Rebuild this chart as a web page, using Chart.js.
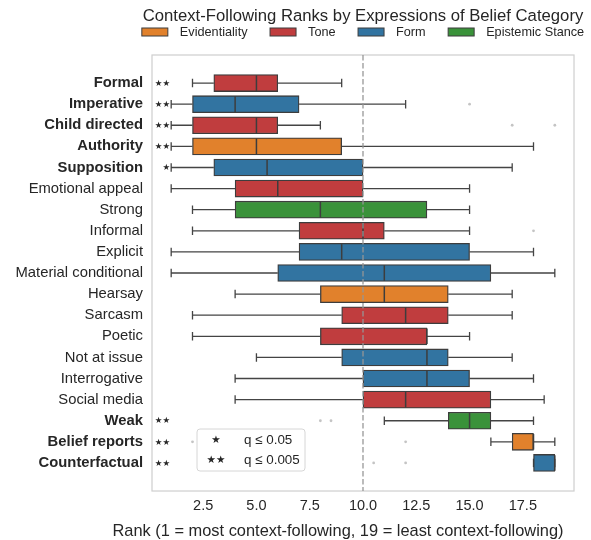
<!DOCTYPE html>
<html><head><meta charset="utf-8">
<script src="https://cdn.jsdelivr.net/npm/chart.js@4.4.1/dist/chart.umd.min.js"></script>
<style>html,body{margin:0;padding:0;background:#fff}canvas{display:block}</style>
</head><body>
<canvas id="c" width="591" height="540"></canvas>
<script>
// ---------- data ----------
const categories = ['Formal','Imperative','Child directed','Authority','Supposition','Emotional appeal','Strong','Informal','Explicit','Material conditional','Hearsay','Sarcasm','Poetic','Not at issue','Interrogative','Social media','Weak','Belief reports','Counterfactual'];
const groups = ['Tone','Form','Tone','Evidentiality','Form','Tone','Epistemic Stance','Tone','Form','Form','Evidentiality','Tone','Tone','Form','Form','Tone','Epistemic Stance','Evidentiality','Form'];
const whiskerLow  = [2, 1, 1, 1, 1,   1, 2, 2, 1, 1, 4, 2, 2, 5, 4, 4, 11, 16, 18];
const q1          = [3, 2, 2, 2, 3,   4, 4, 7, 7, 6, 8, 9, 8, 9, 10, 10, 14, 17, 18];
const medians     = [5, 4, 5, 5, 5.5, 6, 8, 10, 9, 11, 11, 12, 13, 13, 13, 12, 15, 18, 19];
const q3          = [6, 7, 6, 9, 10,  10, 13, 11, 15, 16, 14, 14, 13, 14, 15, 16, 16, 18, 19];
const whiskerHigh = [9, 12, 8, 18, 17, 15, 15, 15, 18, 19, 17, 17, 15, 17, 18, 18.5, 18, 19, 19];
const outliers    = [[], [15], [17, 19], [], [], [], [], [18], [], [], [], [], [], [], [], [], [8, 8.5], [2, 12], [10.5, 12]];
const significance = ['**','**','**','**','*','','','','','','','','','','','','**','**','**'];
const groupNames = ['Evidentiality','Tone','Form','Epistemic Stance'];
const xTicks = [2.5, 5, 7.5, 10, 12.5, 15, 17.5];
const referenceRank = 10;
const sigLegend = [['★', 'q ≤ 0.05'], ['★★', 'q ≤ 0.005']];
const titleText = 'Context-Following Ranks by Expressions of Belief Category';
const xTitleText = 'Rank (1 = most context-following, 19 = least context-following)';

// ---------- style ----------
const groupColors = {'Evidentiality':'#e1812c','Tone':'#c03d3e','Form':'#3274a1','Epistemic Stance':'#3a923a'};
const FONT = "'Liberation Sans', Arial, Helvetica, sans-serif";
const STAR_FONT = "'DejaVu Sans', sans-serif";
const TEXT = '#262626';
const LINE = '#444444';
const BOX_H = 17;

const datasets = groupNames.map(g => ({
  label: g,
  data: categories.map((c, i) => i).filter(i => groups[i] === g).map(i => ({x: [q1[i], q3[i]], y: i})),
  backgroundColor: groupColors[g],
  borderColor: '#3d3d3d',
  borderWidth: 1.3,
  borderSkipped: false,
  barThickness: BOX_H,
  grouped: false
}));

const extras = {
  id: 'extras',
  beforeDatasetsDraw(chart) {
    const {ctx, chartArea: a, scales: {x, y}} = chart;
    ctx.save();
    ctx.strokeStyle = '#d0d0d0'; ctx.lineWidth = 1.25;
    ctx.strokeRect(a.left, a.top, a.right - a.left, a.bottom - a.top);
    ctx.strokeStyle = LINE; ctx.lineWidth = 1.3;
    categories.forEach((c, i) => {
      const py = y.getPixelForValue(i);
      const cap = BOX_H / 4;
      [[whiskerLow[i], q1[i]], [whiskerHigh[i], q3[i]]].forEach(([w, q]) => {
        const pw = x.getPixelForValue(w), pq = x.getPixelForValue(q);
        ctx.beginPath();
        ctx.moveTo(pw, py); ctx.lineTo(pq, py);
        ctx.moveTo(pw, py - cap); ctx.lineTo(pw, py + cap);
        ctx.stroke();
      });
    });
    ctx.restore();
  },
  afterDatasetsDraw(chart) {
    const {ctx, chartArea: a, scales: {x, y}} = chart;
    ctx.save();
    // medians
    ctx.strokeStyle = '#3d3d3d'; ctx.lineWidth = 1.5;
    categories.forEach((c, i) => {
      const py = y.getPixelForValue(i), pm = x.getPixelForValue(medians[i]);
      ctx.beginPath(); ctx.moveTo(pm, py - BOX_H / 2 + 0.7); ctx.lineTo(pm, py + BOX_H / 2 - 0.7); ctx.stroke();
    });
    // outliers
    ctx.fillStyle = '#c4c4c4';
    outliers.forEach((arr, i) => {
      const py = y.getPixelForValue(i);
      arr.forEach(v => { ctx.beginPath(); ctx.arc(x.getPixelForValue(v), py, 1.4, 0, Math.PI * 2); ctx.fill(); });
    });
    // reference line
    const px = x.getPixelForValue(referenceRank);
    ctx.strokeStyle = 'rgba(150,150,150,0.8)'; ctx.lineWidth = 1.6; ctx.setLineDash([5.5, 2.5]);
    ctx.beginPath(); ctx.moveTo(px, a.top); ctx.lineTo(px, a.bottom); ctx.stroke();
    ctx.setLineDash([]);
    // stars
    ctx.fillStyle = TEXT; ctx.font = '8.5px ' + STAR_FONT; ctx.textAlign = 'right'; ctx.textBaseline = 'middle';
    significance.forEach((s, i) => {
      if (s) ctx.fillText('★'.repeat(s.length), a.left + 18, y.getPixelForValue(i) + 0.5);
    });
    // inset legend
    const lx = a.left + 45, rx = lx + 108;
    const ty = a.bottom - 62, by = a.bottom - 20;
    ctx.beginPath(); ctx.roundRect(lx, ty, rx - lx, by - ty, 3);
    ctx.fillStyle = 'rgba(255,255,255,0.85)'; ctx.fill();
    ctx.strokeStyle = '#d6d6d6'; ctx.lineWidth = 1; ctx.stroke();
    sigLegend.forEach(([s, t], k) => {
      const ry = ty + 11.5 + k * 19.5;
      ctx.fillStyle = TEXT; ctx.textBaseline = 'middle';
      ctx.font = '10.5px ' + STAR_FONT; ctx.textAlign = 'center';
      ctx.fillText(s, lx + 19, ry);
      ctx.font = '13.4px ' + FONT; ctx.textAlign = 'left';
      ctx.fillText(t, lx + 47, ry);
    });
    ctx.restore();
  },
  afterDraw(chart) {
    const {ctx, chartArea: a} = chart;
    const cx = (a.left + a.right) / 2;
    ctx.save();
    ctx.fillStyle = TEXT; ctx.textBaseline = 'middle'; ctx.textAlign = 'center';
    ctx.font = '16.7px ' + FONT;
    ctx.fillText(titleText, cx, 16);
    // category legend
    ctx.font = '12.7px ' + FONT;
    const bw = 26, bh = 8, gap = 12, sp = 22.5;
    const widths = groupNames.map(g => bw + gap + ctx.measureText(g).width);
    const total = widths.reduce((s, w) => s + w, 0) + sp * (groupNames.length - 1);
    let lx = cx - total / 2;
    const ly = 32;
    groupNames.forEach((g, k) => {
      ctx.fillStyle = groupColors[g];
      ctx.fillRect(lx, ly - bh / 2, bw, bh);
      ctx.strokeStyle = '#3d3d3d'; ctx.lineWidth = 1;
      ctx.strokeRect(lx, ly - bh / 2, bw, bh);
      ctx.fillStyle = TEXT; ctx.textAlign = 'left';
      ctx.fillText(g, lx + bw + gap, ly + 0.5);
      lx += widths[k] + sp;
    });
    // x-axis title
    ctx.font = '16.4px ' + FONT; ctx.textAlign = 'center';
    ctx.fillText(xTitleText, 338, 531);
    ctx.restore();
  }
};

new Chart(document.getElementById('c'), {
  type: 'bar',
  data: {datasets},
  plugins: [extras],
  options: {
    indexAxis: 'y',
    responsive: false,
    animation: false,
    layout: {padding: {top: 55, right: 17, bottom: 0, left: 0}},
    plugins: {legend: {display: false}, title: {display: false}, tooltip: {enabled: false}},
    scales: {
      x: {
        type: 'linear', min: 0.1, max: 19.9, offset: false,
        grid: {display: false, drawTicks: false},
        border: {display: false},
        afterBuildTicks: s => { s.ticks = xTicks.map(v => ({value: v})); },
        afterFit: s => { s.height = 49; },
        ticks: {color: TEXT, font: {family: FONT, size: 14.5}, padding: 6, callback: v => Number(v).toFixed(1), maxRotation: 0}
      },
      y: {
        type: 'linear', min: -1.33, max: 19.33, reverse: true, offset: false,
        grid: {display: false, drawTicks: false},
        border: {display: false},
        afterBuildTicks: s => { s.ticks = categories.map((c, i) => ({value: i})); },
        afterFit: s => { s.width = 152; },
        ticks: {
          color: TEXT, padding: 9, autoSkip: false,
          callback: v => categories[v],
          font: ctx => ({family: FONT, size: 14.8, weight: significance[ctx.index] ? 'bold' : 'normal'})
        }
      }
    }
  }
});
</script>
</body></html>
